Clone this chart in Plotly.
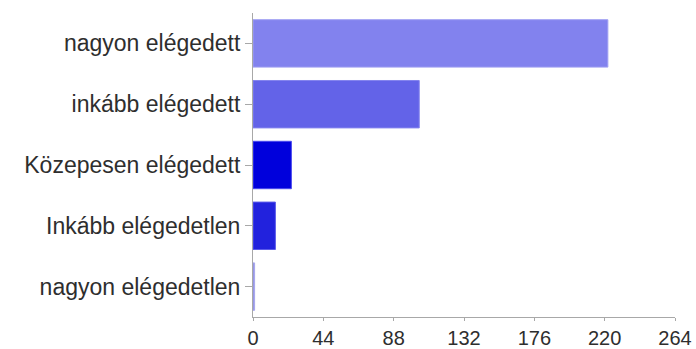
import plotly.graph_objects as go

# Satisfaction survey responses
categories = [
    "nagyon elégedett",
    "inkább elégedett",
    "Közepesen elégedett",
    "Inkább elégedetlen",
    "nagyon elégedetlen",
]
counts = [222, 104, 24, 14, 1]
bar_colors = ["#8282ee", "#6363e8", "#0000dc", "#2222dd", "#8686e0"]
edge_colors = ["#a0a0f2", "#8484ee", "#4a4aee", "#5a5aea", "#a8a8ec"]
x_ticks = [0, 44, 88, 132, 176, 220, 264]

fig = go.Figure(
    go.Bar(
        y=categories,
        x=counts,
        orientation="h",
        marker=dict(color=bar_colors, line=dict(color=edge_colors, width=1)),
        hoverinfo="x+y",
    )
)

font_family = "Liberation Sans, Arial, sans-serif"
axis_gray = "#a8a8a8"
text_color = "#2e2e2e"

fig.update_layout(
    width=696,
    height=349,
    margin=dict(l=253, r=21, t=13, b=32),
    paper_bgcolor="white",
    plot_bgcolor="white",
    bargap=0.22,
    showlegend=False,
    font=dict(family=font_family, size=23, color=text_color),
    xaxis=dict(
        range=[0, 264],
        tickvals=x_ticks,
        ticktext=[str(v) for v in x_ticks],
        showgrid=False,
        zeroline=False,
        showline=True,
        linecolor=axis_gray,
        linewidth=1,
        ticks="outside",
        ticklen=3,
        tickcolor=axis_gray,
        tickfont=dict(size=20, color=text_color),
        automargin=False,
        fixedrange=True,
    ),
    yaxis=dict(
        autorange="reversed",
        showgrid=False,
        zeroline=False,
        showline=True,
        linecolor=axis_gray,
        linewidth=1,
        ticks="outside",
        ticklen=7,
        tickcolor=axis_gray,
        tickfont=dict(size=23, color=text_color),
        automargin=False,
        fixedrange=True,
    ),
)

fig.write_html("out.html")
